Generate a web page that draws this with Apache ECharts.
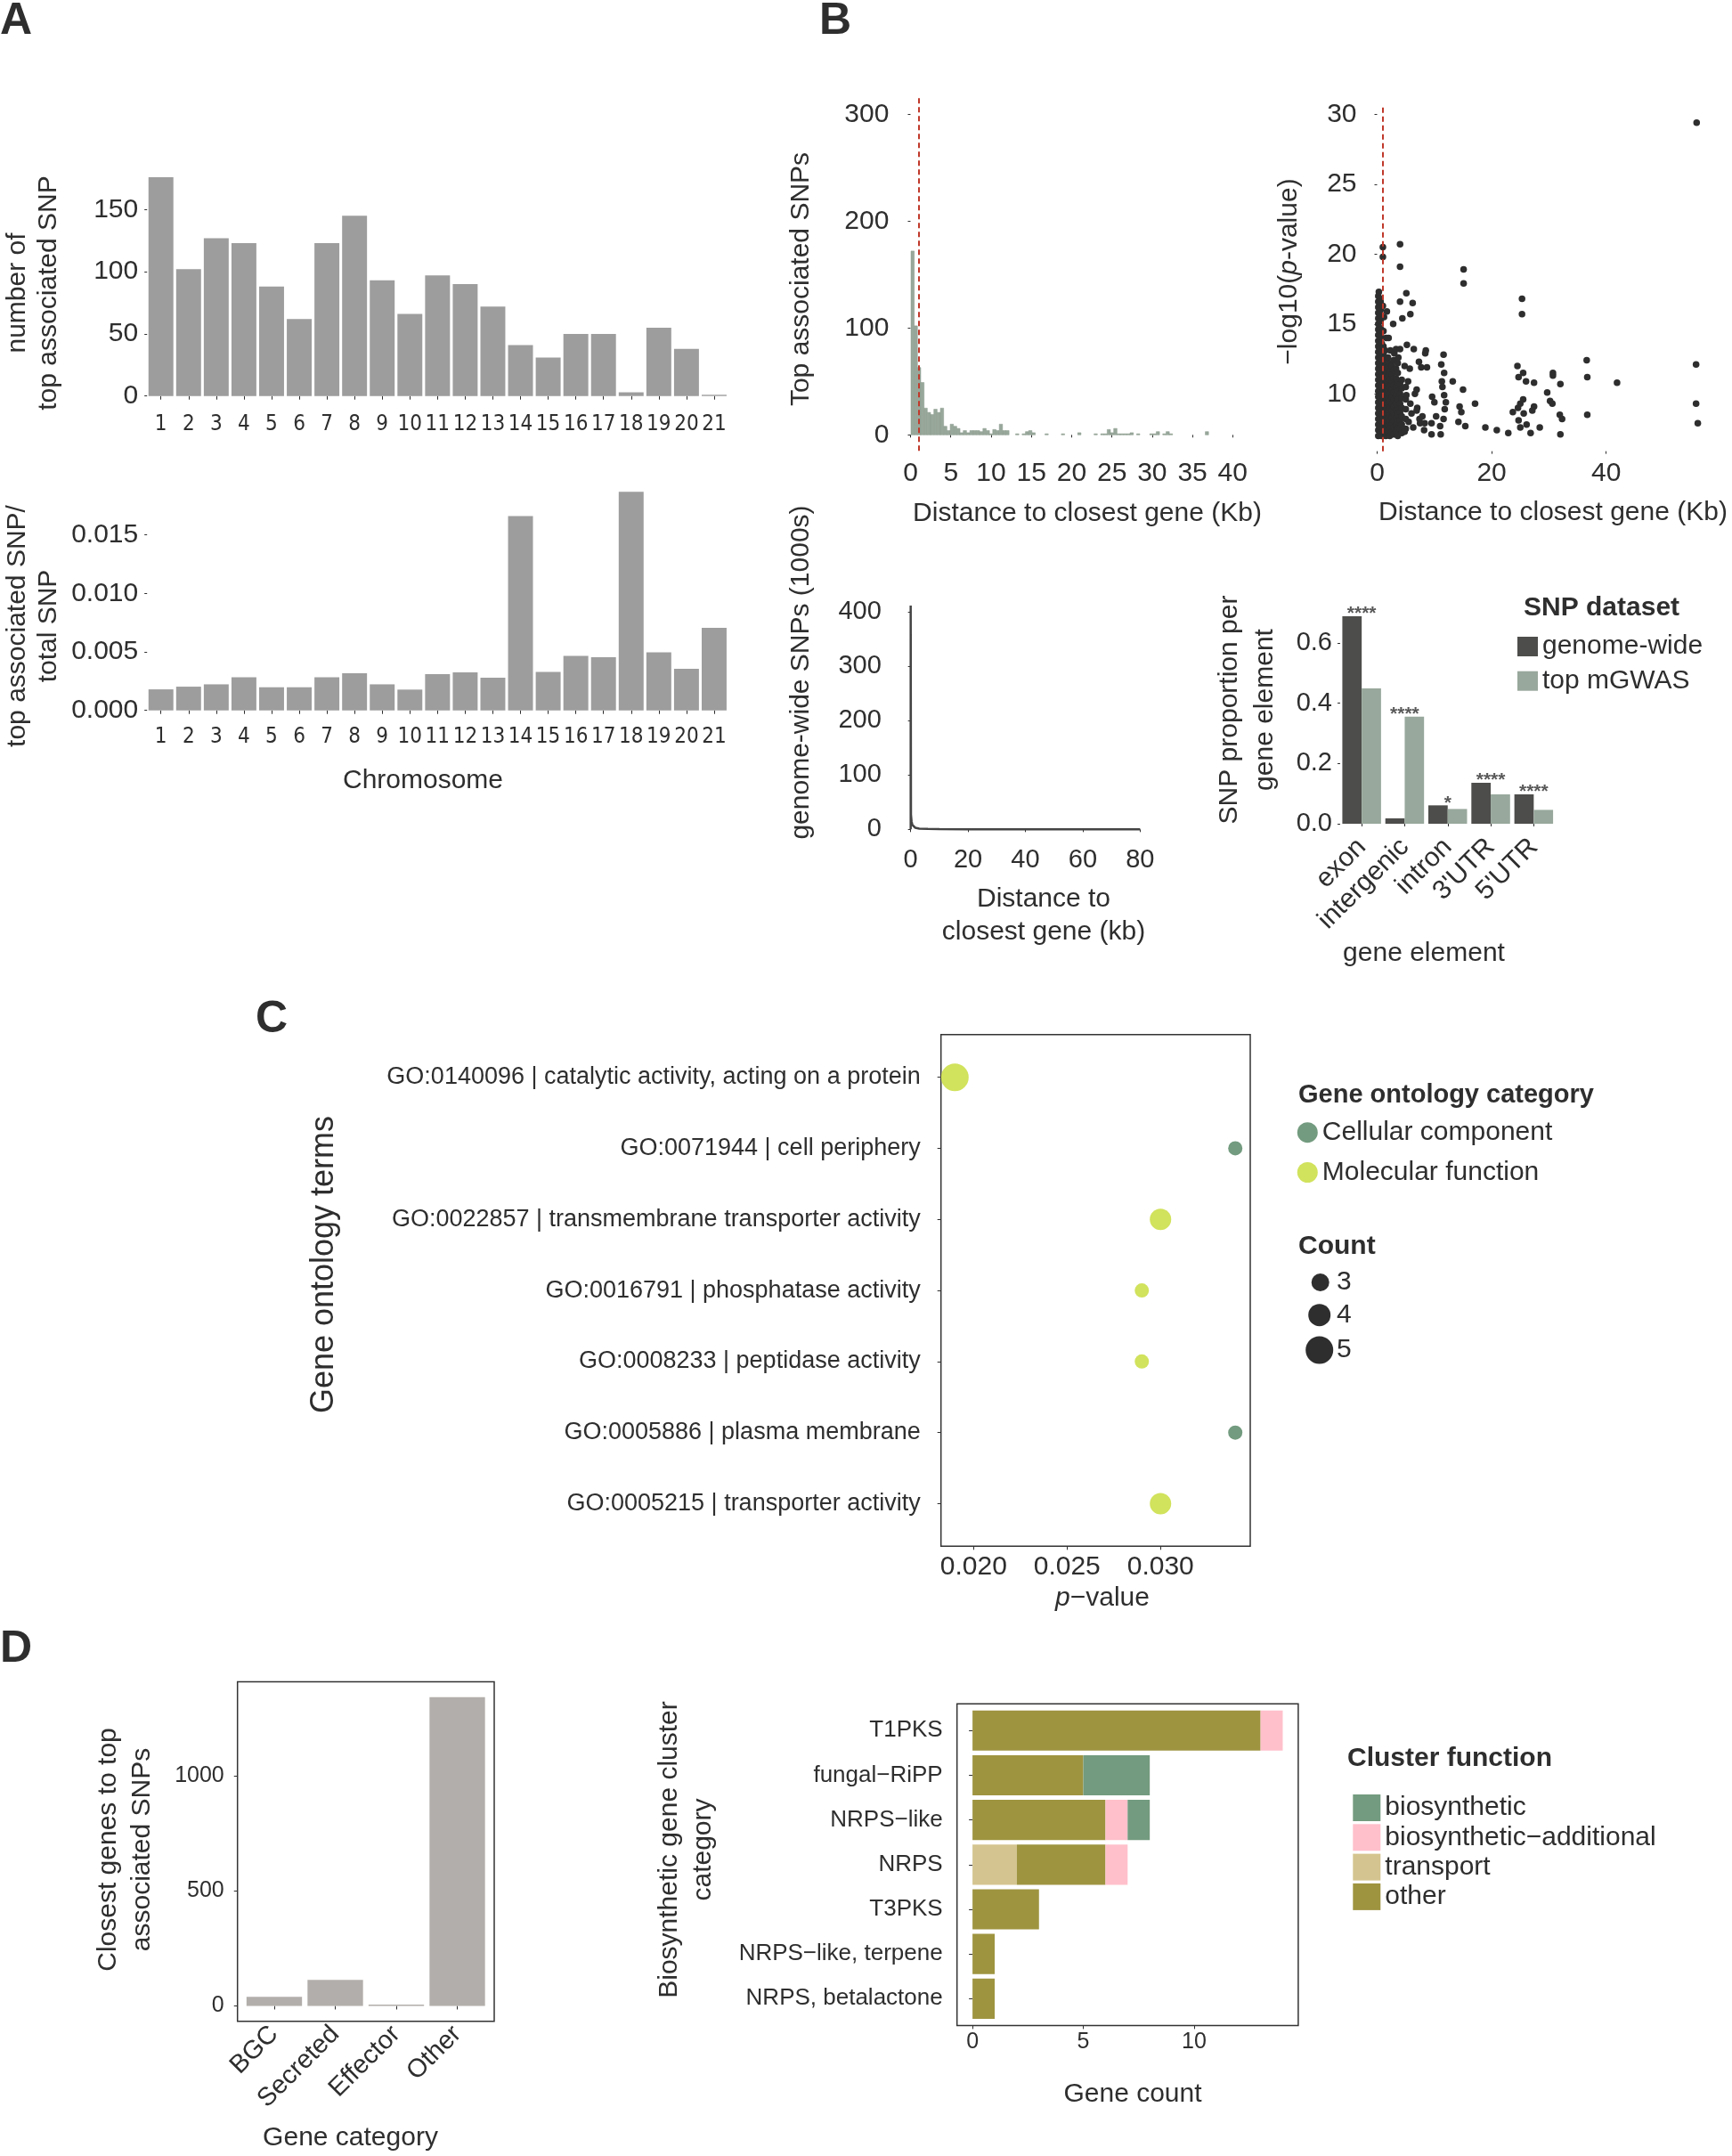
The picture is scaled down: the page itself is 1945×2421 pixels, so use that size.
<!DOCTYPE html>
<html><head><meta charset="utf-8">
<script src="https://cdn.jsdelivr.net/npm/echarts@6/dist/echarts.min.js"></script>
<style>html,body{margin:0;padding:0;background:#fff}#c{width:1945px;height:2421px}</style>
</head><body><div id="c"></div>
<script>
// ================= DATA =================
// Panel A
const chromosomes = ['1','2','3','4','5','6','7','8','9','10','11','12','13','14','15','16','17','18','19','20','21'];
const topSnpCounts = [176,102,127,123,88,62,123,145,93,66,97,90,72,41,31,50,50,3,55,38,1];
const topSnpRatio = [0.0018,0.00203,0.00223,0.00284,0.00198,0.00198,0.00284,0.00317,0.00223,0.00178,0.0031,0.00325,0.00279,0.01662,0.0033,0.00467,0.00454,0.01868,0.00497,0.00355,0.00706];
const countTicksA = [0,50,100,150];
const ratioTicksA = [0,0.005,0.010,0.015];

// Panel B – histogram of distance (kb) of top SNPs
const histBinCenters = [0.26,0.66,1.07,1.48,1.88,2.29,2.69,3.10,3.51,3.91,4.32,4.72,5.13,5.54,5.94,6.35,6.75,7.16,7.57,7.97,8.38,8.78,9.19,9.60,10.00,10.41,10.81,11.22,11.63,12.03,13.25,14.06,14.47,14.87,15.28,16.90,18.93,20.96,22.99,23.81,24.21,24.62,25.02,25.43,25.84,26.24,26.65,27.05,27.46,28.27,29.90,30.30,30.71,31.52,31.93,32.33,36.80];
const histCounts = [172,102,63,49,25,21,19,24,21,25,8,4,10,8,6,2,4,2,4,4,4,3,6,4,1,5,4,10,4,4,1,1,3,4,2,1,1,2,1,1,1,5,2,6,1,1,1,1,2,1,1,1,3,1,3,1,3];
const histBinWidth = 0.406;
const histXTicks = [0,5,10,15,20,25,30,35,40];
const histYTicks = [0,100,200,300];
const distThreshold = 1;

// Panel B – scatter distance vs -log10(p)
const scatterPoints = [
 [0.2,7.0],[0.2,7.4],[0.2,7.8],[0.2,8.2],[0.2,8.6],[0.2,9.0],[0.2,9.4],[0.2,9.8],[0.2,10.2],[0.2,10.6],[0.2,11.0],[0.2,11.4],[0.2,11.8],[0.2,12.2],[0.2,12.6],[0.2,13.0],[0.2,13.4],[0.2,13.8],[0.2,14.2],[0.2,14.6],[0.2,15.0],[0.2,15.4],[0.2,15.8],[0.2,16.2],[0.2,16.6],[0.2,17.0],[0.3,17.3],
 [0.5,7.2],[0.5,7.7],[0.5,8.2],[0.5,8.7],[0.5,9.2],[0.5,9.7],[0.5,10.2],[0.5,10.7],[0.5,11.2],[0.5,11.7],[0.5,12.2],[0.5,12.7],[0.5,13.2],[0.5,13.7],[0.5,14.2],[0.5,14.7],[0.5,15.2],[0.5,15.7],[0.5,16.2],[0.5,16.8],
 [0.8,7.0],[0.8,7.5],[0.8,8.0],[0.8,8.5],[0.8,9.0],[0.8,9.5],[0.8,10.0],[0.8,10.5],[0.8,11.0],[0.8,11.5],[0.8,12.0],[0.8,12.5],[0.8,13.0],[0.8,13.6],[0.7,14.1],[0.7,14.6],[0.6,15.2],[0.6,16.0],[0.6,16.6],
 [1.1,7.3],[1.1,7.8],[1.1,8.3],[1.1,8.8],[1.1,9.3],[1.1,9.8],[1.1,10.3],[1.1,10.8],[1.1,11.3],[1.1,11.8],[1.1,12.3],[1.1,12.8],[1.1,13.4],[1.1,14.5],
 [1.5,7.0],[1.5,7.5],[1.5,8.0],[1.5,8.5],[1.5,9.0],[1.5,9.5],[1.5,10.0],[1.5,10.5],[1.5,11.0],[1.5,11.5],[1.5,12.0],[1.5,12.5],[1.4,13.1],[1.6,14.0],
 [1.9,7.3],[1.9,7.8],[1.9,8.3],[1.9,8.8],[1.9,9.3],[1.9,9.8],[1.9,10.3],[1.9,10.8],[1.9,11.3],[1.9,11.9],[1.9,12.6],
 [2.2,7.0],[2.2,7.5],[2.2,8.0],[2.2,8.5],[2.2,9.0],[2.2,9.5],[2.2,10.0],[2.2,10.5],[2.2,11.0],[2.2,11.6],[2.2,12.2],[2.3,13.1],
 [2.6,7.3],[2.6,7.8],[2.6,8.3],[2.6,8.8],[2.6,9.3],[2.6,9.8],[2.6,10.3],[2.6,10.9],[2.6,11.4],[2.6,12.0],
 [2.9,7.1],[2.9,7.6],[2.9,8.1],[2.9,8.6],[2.9,9.1],[2.9,9.6],[2.9,10.1],[2.9,10.6],[2.9,11.1],[2.9,11.7],[2.9,12.4],[3.0,12.9],
 [3.3,7.3],[3.3,7.8],[3.3,8.3],[3.3,8.8],[3.3,9.3],[3.3,9.9],[3.3,10.5],[3.3,11.1],[3.3,11.8],
 [3.6,7.0],[3.6,7.5],[3.6,8.0],[3.6,8.5],[3.6,9.0],[3.6,9.6],[3.6,10.2],[3.6,10.8],[3.6,11.5],[3.6,12.2],[3.7,12.6],
 [4.0,7.5],[4.0,8.1],[4.0,8.7],[4.0,9.3],[4.0,10.0],[4.0,10.7],
 [4.3,7.2],[4.3,7.8],[4.3,8.4],[4.3,9.0],[4.3,9.7],[4.3,10.4],[4.3,11.0],
 [5.0,7.5],[5.0,8.2],[5.0,8.9],[5.0,9.6],[5.0,10.5],
 [5.5,8.0],[6.0,8.6],[6.3,7.6],[7.0,9.0],[7.5,7.9],[6.6,10.0],[5.4,10.9],[4.8,12.0],[3.3,13.2],[2.0,14.0],[1.2,15.5],[1.0,16.3],
 [55.8,29.4],[4.0,20.7],[1.0,20.5],[1.0,19.8],[4.0,19.1],[15.1,18.9],[15.1,17.9],[5.1,17.2],[4.0,16.6],[6.2,16.5],[25.3,16.8],[25.3,15.7],[5.8,15.7],[4.4,15.4],[1.7,15.9],[2.8,15.0],
 [36.6,12.4],[55.7,12.1],[36.7,11.2],[41.9,10.8],[55.7,9.3],[56.0,7.9],[36.7,8.5],[24.5,12.0],[25.5,11.5],[24.7,11.2],[26.0,10.9],[27.4,10.8],[30.7,11.5],[30.7,11.3],[32.0,10.7],[29.7,10.1],
 [30.2,9.5],[30.6,9.3],[31.9,8.5],[32.3,8.2],[32.0,7.1],[28.4,7.6],[26.8,7.2],[26.1,7.8],[25.0,7.6],[24.7,8.1],[23.7,8.7],[24.6,9.0],[25.0,9.3],[25.5,9.6],[25.6,8.6],[27.4,9.1],[27.1,8.8],
 [22.9,7.2],[20.9,7.4],[18.9,7.6],[17.1,9.3],[15.0,10.3],[13.2,10.9],[11.6,12.8],[11.2,12.1],[11.7,11.5],[11.3,10.9],[11.4,10.5],[11.7,9.9],[12.0,9.4],[11.8,8.9],[11.6,8.2],[11.0,7.7],[11.1,7.1],
 [9.5,7.1],[8.2,7.4],[8.3,7.9],[9.5,7.9],[10.3,8.4],[9.6,9.8],[10.0,9.4],[14.4,9.1],[14.7,8.7],[14.2,8.0],[15.4,7.7],[8.5,13.1],[8.4,12.9],[7.3,12.3],[7.7,11.9],[8.7,11.9],[6.9,10.3],
 [5.7,11.8],[6.4,13.2],[5.2,13.5],[4.0,13.2],[5.1,9.9],[5.8,9.3],[6.9,8.8],[7.9,8.4],[7.4,8.2],[4.8,7.3]
];
const scatterXTicks = [0,20,40];
const scatterYTicks = [10,15,20,25,30];

// Panel B – genome-wide SNP distance distribution
const densityKb = [0,0,0.1,0.3,0.6,1,1.6,3,6,10,20,40,80];
const densityK  = [0,412,27,15,8,5,3,1.5,0.8,0.4,0.2,0.1,0];
const densityXTicks = [0,20,40,60,80];
const densityYTicks = [0,100,200,300,400];

// Panel B – gene element proportions
const geneElements = ['exon','intergenic','intron','3\'UTR','5\'UTR'];
const genomeWide = [0.688,0.018,0.061,0.136,0.0975];
const topMgwas  = [0.449,0.355,0.049,0.0975,0.046];
const sigLabels = ['****','****','*','****','****'];
const propTicks = [0,0.2,0.4,0.6];

// Panel C – GO enrichment
const goTerms = ['GO:0140096 | catalytic activity, acting on a protein','GO:0071944 | cell periphery','GO:0022857 | transmembrane transporter activity','GO:0016791 | phosphatase activity','GO:0008233 | peptidase activity','GO:0005886 | plasma membrane','GO:0005215 | transporter activity'];
const goPvalues = [0.0190,0.0340,0.0300,0.0290,0.0290,0.0340,0.0300];
const goCounts = [5,3,4,3,3,3,4];
const goCategory = ['Molecular function','Cellular component','Molecular function','Molecular function','Molecular function','Cellular component','Molecular function'];
const goCategoryNames = ['Cellular component','Molecular function'];
const goXTicks = [0.020,0.025,0.030];
const countLegendValues = [3,4,5];

// Panel D – gene categories
const geneCats = ['BGC','Secreted','Effector','Other'];
const geneCatCounts = [40,113,6,1344];
const geneCatTicks = [0,500,1000];

// Panel D – BGC categories (stacked)
const bgcCats = ['T1PKS','fungal\u2212RiPP','NRPS\u2212like','NRPS','T3PKS','NRPS\u2212like, terpene','NRPS, betalactone'];
const fnTransport = [0,0,0,2,0,0,0];
const fnOther = [13,5,6,4,3,1,1];
const fnBioAdditional = [1,0,1,1,0,0,0];
const fnBiosynthetic = [0,3,1,0,0,0,0];
const bgcXTicks = [0,5,10];

// ================= STYLE =================
const FONT = "'Liberation Sans', Arial, Helvetica, sans-serif";
const NARROW = "'Liberation Sans Narrow', 'Arial Narrow', 'DejaVu Sans Condensed', 'Liberation Sans', sans-serif";
const INK = '#2e2e2e';
const C_CC = '#739b7f', C_MF = '#d1e25c';
const C_BIO = '#739b7f', C_BIOADD = '#ffc0cb', C_TRANS = '#d4c48f', C_OTHER = '#9e9440';
const sizeByCount = {3:16, 4:24, 5:31};

function vAxis(o){
  return {
    type:'value', gridIndex:o.g, min:o.min, max:o.max, inverse:!!o.inverse, offset:o.offset||0,
    axisLine:{show:false}, splitLine:{show:false},
    axisTick:{show:true, length:o.tl||4, customValues:o.ticks, lineStyle:{color:INK,width:1}},
    axisLabel:{show:true, customValues:o.ticks, formatter:o.fmt || function(v){return String(v);}, margin:o.margin, fontSize:o.fs||29,
      fontFamily:o.ff||FONT, color:INK}
  };
}
function cAxis(o){
  return {
    type:'category', gridIndex:o.g, data:o.data, inverse:!!o.inverse, offset:o.offset||0,
    axisLine:{show:false}, splitLine:{show:false},
    axisTick:{show:true, alignWithLabel:true, length:o.tl||4, lineStyle:{color:INK,width:1}},
    axisLabel:{interval:0, margin:o.margin, fontSize:o.fs||29, fontFamily:o.ff||FONT, color:INK, rotate:o.rot||0}
  };
}
function T(text, x, y, o){
  o = o || {};
  const st = {text:text, fontSize:o.fs||30, fontFamily:FONT, fontWeight:o.bold?'bold':'normal', fill:INK,
    align:o.align||'center', verticalAlign:'middle'};
  if (o.lh) st.lineHeight = o.lh;
  if (o.rich) st.rich = o.rich;
  return {type:'text', x:x, y:y, rotation:o.rot?Math.PI/2:0, z:100, style:st};
}
const richP = function(fs){ return {a:{fontSize:fs, fontFamily:FONT, fill:INK}, b:{fontSize:fs, fontFamily:FONT, fontStyle:'italic', fill:INK}}; };

const chart = echarts.init(document.getElementById('c'), null, {renderer:'canvas'});

const option = {
  animation:false,
  backgroundColor:'#ffffff',
  textStyle:{fontFamily:FONT, color:INK},
  grid:[
    {left:165.2, top:186.7, width:652.3, height:270.3},
    {left:165.2, top:540.1, width:652.3, height:269.9},
    {left:1004.4, top:110.3, width:398, height:396},
    {left:1528.5, top:120.45, width:394.8, height:386.2},
    {left:1009.8, top:667.4, width:283.4, height:276.5},
    {left:1505, top:680.6, width:241.5, height:255.9},
    {left:1056.7, top:1161.8, width:347.3, height:574.5, show:true, borderColor:'#333', borderWidth:1.5},
    {left:273.75, top:1888.5, width:274, height:381.3},
    {left:1074.7, top:1918.2, width:383.2, height:351.2}
  ],
  xAxis:[
    cAxis({g:0, data:chromosomes, fs:24, ff:NARROW, margin:8, tl:4}),
    cAxis({g:1, data:chromosomes, fs:24, ff:NARROW, margin:6, tl:4}),
    vAxis({g:2, min:-2, max:42, ticks:histXTicks, margin:10, fs:30, tl:3}),
    vAxis({g:3, min:-2.8, max:58.6, ticks:scatterXTicks, margin:10, fs:30, tl:3}),
    vAxis({g:4, min:-4, max:84, ticks:densityXTicks, margin:8, fs:29, tl:3}),
    cAxis({g:5, data:geneElements, rot:45, margin:10, fs:30, tl:3}),
    vAxis({g:6, min:0.018257, max:0.0348, ticks:goXTicks, fmt:function(v){return v.toFixed(3);}, margin:8, fs:30}),
    cAxis({g:7, data:geneCats, rot:45, margin:10, fs:29}),
    vAxis({g:8, min:-0.7, max:14.7, ticks:bgcXTicks, offset:5, margin:6, fs:25})
  ],
  yAxis:[
    vAxis({g:0, min:-8.8, max:184.8, ticks:countTicksA, margin:10, fs:30, tl:3}),
    vAxis({g:1, min:-0.000934, max:0.019614, ticks:ratioTicksA, fmt:function(v){return v.toFixed(3);}, margin:10, fs:30, tl:3}),
    vAxis({g:2, min:-15, max:315, ticks:histYTicks, margin:6, fs:30, tl:3}),
    vAxis({g:3, min:5.9, max:30.5, ticks:scatterYTicks, margin:5, fs:30, tl:3}),
    vAxis({g:4, min:-20.6, max:432.6, ticks:densityYTicks, margin:20, fs:29, tl:3}),
    vAxis({g:5, min:-0.034, max:0.722, ticks:propTicks, fmt:function(v){return v.toFixed(1);}, margin:9, fs:29, tl:3}),
    vAxis({g:6, min:0.4, max:7.6, inverse:true, ticks:goTerms.map(function(_,i){return i+1;}), fmt:function(v){return goTerms[Math.round(v)-1];}, margin:23, fs:27}),
    vAxis({g:7, min:-67.2, max:1411.2, ticks:geneCatTicks, offset:7, margin:15, fs:25}),
    cAxis({g:8, data:bgcCats, inverse:true, margin:16, fs:26})
  ],
  legend:[
    {data:['genome-wide','top mGWAS'], orient:'vertical', left:1704, top:711, padding:0, itemWidth:23, itemHeight:22, itemGap:8.7, icon:'rect', selectedMode:false,
      textStyle:{fontSize:30, lineHeight:22, color:INK, fontFamily:FONT}},
    {data:goCategoryNames, orient:'vertical', left:1456.8, top:1256.7, padding:0, itemWidth:23, itemHeight:23, itemGap:14.8, icon:'circle', selectedMode:false,
      textStyle:{fontSize:30, lineHeight:23, color:INK, fontFamily:FONT}},
    {data:['biosynthetic','biosynthetic\u2212additional','transport','other'], orient:'vertical', left:1519.3, top:2015, padding:0, itemWidth:31, itemHeight:30, itemGap:3.3, icon:'rect', selectedMode:false,
      textStyle:{fontSize:30, lineHeight:30, color:INK, fontFamily:FONT}}
  ],
  series:[
    {type:'bar', xAxisIndex:0, yAxisIndex:0, data:topSnpCounts, barCategoryGap:'10%', itemStyle:{color:'#9d9d9d'}},
    {type:'bar', xAxisIndex:1, yAxisIndex:1, data:topSnpRatio, barCategoryGap:'10%', itemStyle:{color:'#9d9d9d'}},
    {type:'custom', xAxisIndex:2, yAxisIndex:2,
      data:histBinCenters.map(function(x,i){return [x, histCounts[i]];}),
      renderItem:function(params, api){
        const x = api.value(0), c = api.value(1);
        const p0 = api.coord([x - histBinWidth/2, c]);
        const p1 = api.coord([x + histBinWidth/2, 0]);
        return {type:'rect', shape:{x:p0[0], y:p0[1], width:p1[0]-p0[0], height:p1[1]-p0[1]},
          style:{fill:'#98a89b', stroke:'#8a9a8d', lineWidth:0.5}};
      }, z:2},
    {type:'scatter', xAxisIndex:2, yAxisIndex:2, data:[[distThreshold,0]], symbolSize:0, z:5, silent:true,
      markLine:{symbol:'none', silent:true, label:{show:false}, lineStyle:{type:[6,4], color:'#c0392b', width:2}, data:[{xAxis:distThreshold}]}},
    {type:'scatter', xAxisIndex:3, yAxisIndex:3, data:scatterPoints, symbolSize:7.5, itemStyle:{color:'#2e2e2e', opacity:1}, z:2},
    {type:'scatter', xAxisIndex:3, yAxisIndex:3, data:[[distThreshold,10]], symbolSize:0, z:6, silent:true,
      markLine:{symbol:'none', silent:true, label:{show:false}, lineStyle:{type:[6,4], color:'#c0392b', width:2}, data:[{xAxis:distThreshold}]}},
    {type:'line', xAxisIndex:4, yAxisIndex:4, data:densityKb.map(function(x,i){return [x, densityK[i]];}), showSymbol:false, smooth:false,
      lineStyle:{color:'#444444', width:2.5}},
    {name:'genome-wide', type:'bar', xAxisIndex:5, yAxisIndex:5, data:genomeWide, barGap:'0%', barCategoryGap:'10%', itemStyle:{color:'#4d4d4b'}},
    {name:'top mGWAS', type:'bar', xAxisIndex:5, yAxisIndex:5, data:topMgwas, barGap:'0%', barCategoryGap:'10%', itemStyle:{color:'#98a89c'}},
    {type:'scatter', xAxisIndex:5, yAxisIndex:5, symbolSize:0, silent:true,
      data:geneElements.map(function(_,i){return [i, Math.max(genomeWide[i], topMgwas[i])];}),
      label:{show:true, position:'top', distance:0, offset:[0,8], fontSize:21, fontWeight:'bold', fontFamily:FONT, color:INK,
        formatter:function(p){return sigLabels[p.dataIndex];}}},
    {name:'Cellular component', type:'scatter', xAxisIndex:6, yAxisIndex:6, itemStyle:{color:C_CC, opacity:1},
      data:goTerms.map(function(_,i){return [goPvalues[i], i+1, goCounts[i], goCategory[i]];}).filter(function(d){return d[3]==='Cellular component';}),
      symbolSize:function(v){return sizeByCount[v[2]];}},
    {name:'Molecular function', type:'scatter', xAxisIndex:6, yAxisIndex:6, itemStyle:{color:C_MF, opacity:1},
      data:goTerms.map(function(_,i){return [goPvalues[i], i+1, goCounts[i], goCategory[i]];}).filter(function(d){return d[3]==='Molecular function';}),
      symbolSize:function(v){return sizeByCount[v[2]];}},
    {type:'bar', xAxisIndex:7, yAxisIndex:7, data:geneCatCounts, barCategoryGap:'9%', itemStyle:{color:'#b2aeab'}},
    {name:'transport', type:'bar', stack:'bgc', xAxisIndex:8, yAxisIndex:8, data:fnTransport, barCategoryGap:'10%', itemStyle:{color:C_TRANS}},
    {name:'other', type:'bar', stack:'bgc', xAxisIndex:8, yAxisIndex:8, data:fnOther, barCategoryGap:'10%', itemStyle:{color:C_OTHER}},
    {name:'biosynthetic\u2212additional', type:'bar', stack:'bgc', xAxisIndex:8, yAxisIndex:8, data:fnBioAdditional, barCategoryGap:'10%', itemStyle:{color:C_BIOADD}},
    {name:'biosynthetic', type:'bar', stack:'bgc', xAxisIndex:8, yAxisIndex:8, data:fnBiosynthetic, barCategoryGap:'10%', itemStyle:{color:C_BIO}}
  ],
  graphic:{elements:[
    T('A', 0, 24, {fs:50, bold:true, align:'left'}),
    T('B', 920, 24, {fs:50, bold:true, align:'left'}),
    T('C', 287, 1145, {fs:50, bold:true, align:'left'}),
    T('D', 0, 1852, {fs:50, bold:true, align:'left'}),
    T('number of\ntop associated SNP', 37, 329, {rot:true, lh:35}),
    T('top associated SNP/\ntotal SNP', 37, 703, {rot:true, lh:35}),
    T('Chromosome', 475, 877),
    T('Top associated SNPs', 900, 313.5, {rot:true}),
    T('Distance to closest gene (Kb)', 1221, 577),
    T('{a|\u2212log10(}{b|p}{a|-value)}', 1448, 305, {rot:true, rich:richP(30)}),
    T('Distance to closest gene (Kb)', 1744, 576),
    T('genome-wide SNPs (1000s)', 900, 755, {rot:true}),
    T('Distance to\nclosest gene (kb)', 1172, 1028, {lh:37}),
    T('SNP proportion per\ngene element', 1401, 797, {rot:true, lh:40}),
    T('gene element', 1599, 1071),
    T('SNP dataset', 1711, 683, {bold:true, align:'left'}),
    T('Gene ontology terms', 364, 1420, {rot:true, fs:36}),
    T('{b|p}{a|\u2212value}', 1238, 1795, {rich:richP(30)}),
    T('Gene ontology category', 1458, 1230, {bold:true, fs:29, align:'left'}),
    T('Count', 1458, 1400, {bold:true, align:'left'}),
    {type:'circle', shape:{cx:1482.7, cy:1440, r:10}, style:{fill:INK}},
    {type:'circle', shape:{cx:1481.7, cy:1476.7, r:12.5}, style:{fill:INK}},
    {type:'circle', shape:{cx:1481.7, cy:1516, r:15.5}, style:{fill:INK}},
    T(String(countLegendValues[0]), 1501, 1440, {align:'left'}),
    T(String(countLegendValues[1]), 1501, 1476.7, {align:'left'}),
    T(String(countLegendValues[2]), 1501, 1516, {align:'left'}),
    {type:'rect', shape:{x:266.7, y:1888.5, width:288.3, height:381.3}, style:{fill:'none', stroke:'#333', lineWidth:1.5}, z:50},
    {type:'rect', shape:{x:1074.7, y:1913.2, width:383.2, height:361.2}, style:{fill:'none', stroke:'#333', lineWidth:1.5}, z:50},
    T('Closest genes to top\nassociated SNPs', 141, 2077, {rot:true, lh:38}),
    T('Gene category', 393.5, 2401),
    T('Biosynthetic gene cluster\ncategory', 771, 2077, {rot:true, lh:38}),
    T('Gene count', 1272, 2352),
    T('Cluster function', 1513, 1975, {bold:true, align:'left'})
  ]}
};
chart.setOption(option);
</script></body></html>
